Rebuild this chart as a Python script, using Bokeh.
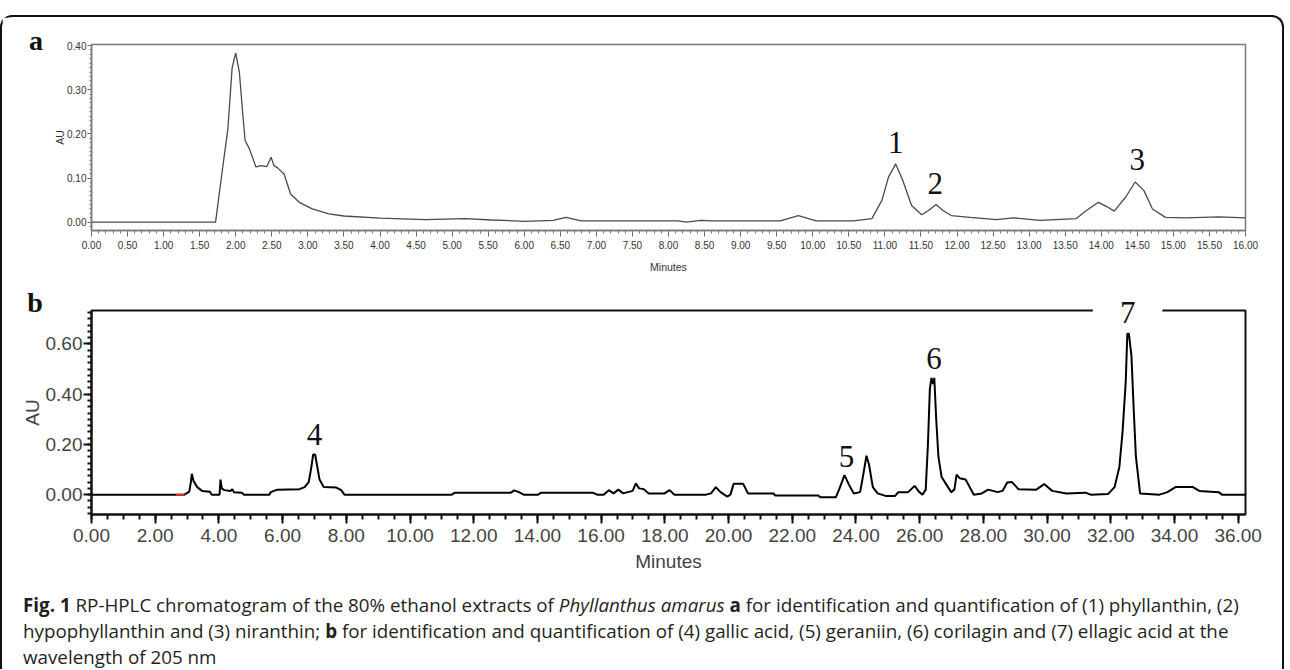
from bokeh.plotting import figure
from bokeh.models import FixedTicker, PrintfTickFormatter, Label, Div
from bokeh.layouts import column
from bokeh.embed import file_html
from bokeh.resources import INLINE

# ---------------- data: panel a ----------------
a_minutes = [0, 1.72, 1.82, 1.89, 1.95, 2.0, 2.05, 2.1, 2.13, 2.19, 2.28, 2.35, 2.43, 2.49,
             2.53, 2.58, 2.67, 2.76, 2.88, 3.06, 3.29, 3.5, 4.0, 4.63, 5.18, 5.55, 6.01, 6.4,
             6.58, 6.79, 8.13, 8.25, 8.45, 8.6, 9.55, 9.8, 10.05, 10.57, 10.82, 10.96, 11.05,
             11.15, 11.25, 11.37, 11.51, 11.6, 11.71, 11.81, 11.92, 12.18, 12.55, 12.78, 13.15,
             13.65, 13.79, 13.96, 14.07, 14.18, 14.34, 14.47, 14.59, 14.71, 14.89, 15.17, 15.63, 16.0]
a_au = [0, 0, 0.125, 0.21, 0.35, 0.383, 0.34, 0.24, 0.185, 0.166, 0.125, 0.128, 0.126, 0.147,
        0.128, 0.123, 0.109, 0.064, 0.045, 0.03, 0.019, 0.014, 0.009, 0.006, 0.008, 0.005, 0.002, 0.004,
        0.011, 0.003, 0.003, 0.0, 0.004, 0.003, 0.003, 0.015, 0.003, 0.003, 0.008, 0.05, 0.102,
        0.132, 0.094, 0.038, 0.017, 0.026, 0.040, 0.026, 0.015, 0.011, 0.006, 0.01, 0.004,
        0.008, 0.026, 0.045, 0.036, 0.025, 0.057, 0.091, 0.072, 0.03, 0.011, 0.01, 0.012, 0.01]
a_peak_ids = ["1", "2", "3"]
a_peak_x = [11.15, 11.7, 14.5]
a_peak_y = [0.181, 0.087, 0.142]
a_xticks = [i * 0.5 for i in range(33)]
a_yticks = [0.0, 0.1, 0.2, 0.3, 0.4]

# ---------------- data: panel b ----------------
b_minutes = [0, 2.92, 3.07, 3.12, 3.15, 3.20, 3.32, 3.47, 3.72, 3.77, 4.02, 4.05, 4.09, 4.17, 4.37,
             4.42, 4.47, 4.72, 4.78, 5.58, 5.63, 5.83, 6.53, 6.69, 6.82, 6.89, 6.96, 7.02, 7.09, 7.16,
             7.29, 7.69, 7.84, 7.94, 11.31, 11.41, 13.17, 13.27, 13.42, 13.57, 14.02, 14.12, 15.73,
             15.88, 16.08, 16.24, 16.39, 16.54, 16.69, 16.99, 17.09, 17.19, 17.34, 17.49, 17.99, 18.15,
             18.30, 19.30, 19.45, 19.60, 19.75, 19.96, 20.06, 20.16, 20.46, 20.61, 21.41, 21.46, 22.82,
             22.87, 23.37, 23.47, 23.64, 23.78, 23.93, 24.13, 24.23, 24.33, 24.41, 24.53, 24.68, 24.93,
             25.23, 25.33, 25.64, 25.84, 25.99, 26.09, 26.19, 26.26, 26.32, 26.37, 26.42, 26.46,
             26.52, 26.59, 26.69, 26.84, 26.99, 27.09, 27.16, 27.26, 27.44, 27.55, 27.70, 27.95,
             28.15, 28.45, 28.60, 28.75, 28.90, 29.10, 29.66, 29.91, 30.16, 30.61, 31.21, 31.37, 31.92,
             32.12, 32.27, 32.37, 32.47, 32.52, 32.57, 32.65, 32.72, 32.79, 32.92, 33.53, 33.78,
             34.03, 34.58, 34.78, 35.39, 35.49, 36.23]
b_au = [0, 0, 0.012, 0.05, 0.083, 0.055, 0.03, 0.015, 0.012, 0.0, 0.0, 0.06, 0.025, 0.018, 0.015,
        0.022, 0.01, 0.008, 0.0, 0.0, 0.01, 0.02, 0.022, 0.03, 0.05, 0.1, 0.16, 0.16, 0.11, 0.06,
        0.03, 0.028, 0.018, 0.0, 0.0, 0.008, 0.008, 0.017, 0.01, 0.0, 0.0, 0.008, 0.008,
        0.0, 0.0, 0.018, 0.005, 0.02, 0.005, 0.015, 0.045, 0.025, 0.022, 0.005, 0.005, 0.018,
        0.0, 0.0, 0.005, 0.03, 0.01, -0.008, 0.0, 0.043, 0.043, 0.005, 0.005, -0.003, -0.003,
        -0.01, -0.01, 0.02, 0.078, 0.04, 0.005, 0.01, 0.08, 0.155, 0.12, 0.03, 0.005, -0.005,
        -0.005, 0.01, 0.01, 0.035, 0.01, 0.0, 0.02, 0.2, 0.42, 0.465, 0.44, 0.465,
        0.3, 0.15, 0.07, 0.04, 0.01, 0.02, 0.08, 0.065, 0.06, 0.035, 0.0, 0.005,
        0.02, 0.01, 0.015, 0.048, 0.05, 0.022, 0.02, 0.042, 0.015, 0.005, 0.008, 0.0, 0.003,
        0.03, 0.11, 0.25, 0.45, 0.64, 0.64, 0.55, 0.34, 0.15, 0.005, 0.0, 0.01,
        0.03, 0.03, 0.015, 0.01, 0.0, 0.0]
b_start_minutes = [2.66, 2.92]
b_start_au = [0, 0]
b_peak_ids = ["4", "5", "6"]
b_peak_x = [7.0, 23.7, 26.45]
b_peak_y = [0.238, 0.151, 0.541]
b_top_peak_id = "7"
b_top_peak_x = 32.53
b_top_peak_y = 0.725
b_xticks = [i * 2.0 for i in range(19)]
b_yticks = [0.0, 0.2, 0.4, 0.6]

W = 1270
serif = "Liberation Serif"
sans = "Liberation Sans"

# ---------------- panel a ----------------
pa = figure(width=W, height=268, x_range=(0, 16), y_range=(-0.0188, 0.4023),
            output_backend="svg", toolbar_location=None,
            min_border_left=85, min_border_right=27, min_border_top=27, min_border_bottom=55)
pa.xgrid.visible = False
pa.ygrid.visible = False
pa.outline_line_color = "#7a7a7a"
pa.outline_line_width = 1.5
pa.line(a_minutes, a_au, line_color="#4a4a4a", line_width=1.3)

for ax in (pa.xaxis[0], pa.yaxis[0]):
    ax.axis_line_color = "#7a7a7a"
    ax.axis_line_width = 1.5
    ax.major_tick_line_color = "#666666"
    ax.minor_tick_line_color = "#777777"
    ax.major_label_text_font = sans
    ax.major_label_text_font_size = "10px"
    ax.major_label_text_color = "#333333"
    ax.axis_label_text_font = sans
    ax.axis_label_text_font_size = "10.5px"
    ax.axis_label_text_font_style = "normal"
    ax.axis_label_text_color = "#333333"
    ax.formatter = PrintfTickFormatter(format="%.2f")
    ax.major_tick_in = 0
    ax.minor_tick_in = 0

pa.xaxis.ticker = FixedTicker(ticks=a_xticks, minor_ticks=[i * 0.1 for i in range(161)])
pa.xaxis.major_tick_out = 6
pa.xaxis.minor_tick_out = 3
pa.xaxis.major_label_standoff = 4
pa.xaxis.axis_label = "Minutes"
pa.xaxis.axis_label_standoff = 9

pa.yaxis.ticker = FixedTicker(ticks=a_yticks, minor_ticks=[i * 0.01 - 0.01 for i in range(42)])
pa.yaxis.major_tick_out = 4
pa.yaxis.minor_tick_out = 2
pa.yaxis.major_label_standoff = 1
pa.yaxis.axis_label = "AU"
pa.yaxis.axis_label_standoff = -2

for s, x, y in zip(a_peak_ids, a_peak_x, a_peak_y):
    pa.add_layout(Label(x=x, y=y, text=s, text_font=serif, text_font_size="31px",
                        text_align="center", text_baseline="middle", text_color="#111111"))
# panel letter (placed in a side panel so it is not clipped to the frame)
pa.add_layout(Label(x=-0.77, y=0.411, text="a", text_font=serif, text_font_size="28px",
                    text_font_style="bold", text_align="center", text_baseline="middle",
                    text_color="#111111"), "left")

# ---------------- panel b ----------------
pb = figure(width=W, height=300, x_range=(0, 36.23), y_range=(-0.079, 0.733),
            output_backend="svg", toolbar_location=None,
            min_border_left=87, min_border_right=24, min_border_top=23, min_border_bottom=71)
pb.xgrid.visible = False
pb.ygrid.visible = False
pb.outline_line_color = "#111111"
pb.outline_line_width = 2
pb.line(b_minutes, b_au, line_color="#000000", line_width=2)
pb.line(b_start_minutes, b_start_au, line_color="#e8302a", line_width=2)

for ax in (pb.xaxis[0], pb.yaxis[0]):
    ax.axis_line_color = "#111111"
    ax.axis_line_width = 2
    ax.major_tick_line_color = "#111111"
    ax.major_tick_line_width = 2
    ax.minor_tick_line_color = "#111111"
    ax.minor_tick_line_width = 2
    ax.major_label_text_font = sans
    ax.major_label_text_font_size = "19px"
    ax.major_label_text_color = "#444444"
    ax.axis_label_text_font = sans
    ax.axis_label_text_font_size = "19px"
    ax.axis_label_text_font_style = "normal"
    ax.axis_label_text_color = "#444444"
    ax.formatter = PrintfTickFormatter(format="%.2f")
    ax.major_tick_in = 0
    ax.minor_tick_in = 0

pb.xaxis.ticker = FixedTicker(ticks=b_xticks, minor_ticks=[i * 0.5 for i in range(73)])
pb.xaxis.major_tick_out = 9
pb.xaxis.minor_tick_out = 5
pb.xaxis.major_label_standoff = 5
pb.xaxis.axis_label = "Minutes"
pb.xaxis.axis_label_standoff = 6

pb.yaxis.ticker = FixedTicker(ticks=b_yticks, minor_ticks=[i * 0.025 - 0.075 for i in range(33)])
pb.yaxis.major_tick_out = 8
pb.yaxis.minor_tick_out = 4
pb.yaxis.major_label_standoff = 1
pb.yaxis.axis_label = "AU"
pb.yaxis.axis_label_standoff = 0

for s, x, y in zip(b_peak_ids, b_peak_x, b_peak_y):
    pb.add_layout(Label(x=x, y=y, text=s, text_font=serif, text_font_size="31px",
                        text_align="center", text_baseline="middle", text_color="#111111"))
# peak 7 sits on the top border, with a white gap cut into it
pb.add_layout(Label(x=b_top_peak_x, y=b_top_peak_y, text=b_top_peak_id, text_font=serif,
                    text_font_size="31px", text_align="center", text_baseline="middle",
                    text_color="#111111", background_fill_color="white", padding=(27, 2),
                    level="overlay"), "above")
pb.add_layout(Label(x=-1.77, y=0.764, text="b", text_font=serif, text_font_size="28px",
                    text_font_style="bold", text_align="center", text_baseline="middle",
                    text_color="#111111"), "left")

# ---------------- caption ----------------
caption = Div(
    text=('<div style="font-family:\'Open Sans\';font-size:18.8px;line-height:26px;color:#231f20;'
          'padding:2px 0 0 16px;white-space:nowrap;">'
          '<b>Fig. 1</b> RP-HPLC chromatogram of the 80% ethanol extracts of <i>Phyllanthus amarus</i> '
          '<b>a</b> for identification and quantification of (1) phyllanthin, (2)<br>'
          'hypophyllanthin and (3) niranthin; <b>b</b> for identification and quantification of (4) '
          'gallic acid, (5) geraniin, (6) corilagin and (7) ellagic acid at the<br>'
          'wavelength of 205 nm</div>'),
    width=W, height=74)

# top margin collapses with the body's 8px margin, so 15 puts the box top at y=15
layout = column(pa, pb, caption, spacing=0, margin=(15, 0, 0, 0),
                styles={"border-top": "2px solid #111",
                        "border-left": "2px solid #111", "border-right": "2px solid #111",
                        "border-top-left-radius": "12px", "border-top-right-radius": "12px"})

open("out.html", "w").write(file_html(layout, INLINE))
